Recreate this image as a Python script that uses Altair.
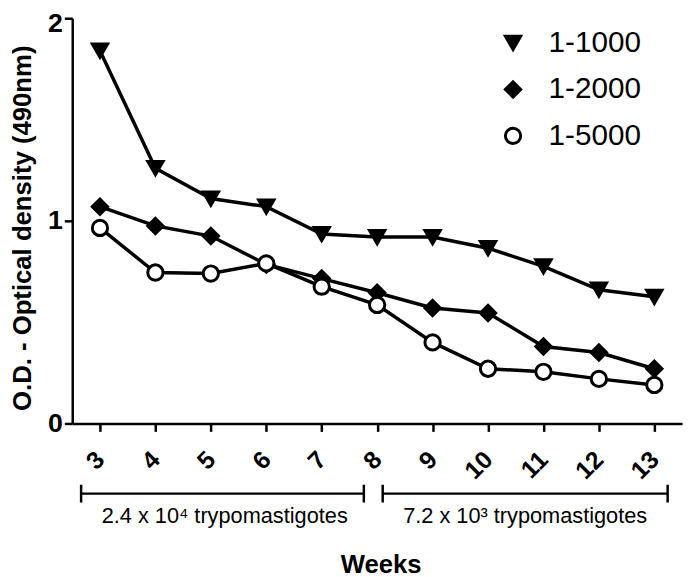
import altair as alt
import pandas as pd

weeks = [3, 4, 5, 6, 7, 8, 9, 10, 11, 12, 13]
series_names = ["1-1000", "1-2000", "1-5000"]
od_1000 = [1.84, 1.26, 1.11, 1.07, 0.935, 0.92, 0.92, 0.865, 0.775, 0.66, 0.625]
od_2000 = [1.07, 0.975, 0.925, 0.785, 0.715, 0.645, 0.57, 0.545, 0.38, 0.35, 0.27]
od_5000 = [0.965, 0.745, 0.74, 0.79, 0.675, 0.585, 0.40, 0.27, 0.255, 0.22, 0.19]
y_ticks = [0.0, 1.0, 2.0]

bracket_start = [2.66, 8.1]
bracket_end = [7.76, 13.24]
bracket_label_x = [5.25, 10.67]
bracket_labels = ["2.4 x 10\u2074 trypomastigotes", "7.2 x 10\u00b3 trypomastigotes"]

FONT = "Liberation Sans"

rows = []
for name, vals in zip(series_names, [od_1000, od_2000, od_5000]):
    for w, v in zip(weeks, vals):
        rows.append({"week": w, "od": v, "series": name})
df = pd.DataFrame(rows)

br = pd.DataFrame({"start": bracket_start, "end": bracket_end,
                   "lx": bracket_label_x, "label": bracket_labels})
caps = pd.DataFrame({"cx": bracket_start + bracket_end})

xscale = alt.Scale(domain=[2.5, 13.5], nice=False, zero=False)
yscale = alt.Scale(domain=[0, 2], nice=False)

x_enc = alt.X("week:Q", scale=xscale, axis=alt.Axis(
    values=weeks, title="Weeks", format="d",
    labelAngle=315, labelAlign="right", labelBaseline="middle",
    labelFontSize=25, labelFontWeight="bold", labelPadding=24,
    labelOverlap=False, labelFlush=False, labelBound=False,
    titleFontSize=26, titleFontWeight="bold", titleX=312, titleY=143,
    titleAlign="center", titleBaseline="middle"))
y_enc = alt.Y("od:Q", scale=yscale, axis=alt.Axis(
    values=y_ticks, format=".0f", title="O.D. - Optical density (490nm)",
    labelFontSize=27, labelFontWeight="bold", labelPadding=2,
    labelOverlap=False, labelFlush=False, labelBound=False,
    labelOffset={"condition": {"test": "datum.value == 2", "value": 5}, "value": 0},
    titleFontSize=26, titleFontWeight="bold", titleX=-50, titleY=212,
    titleAngle=270, titleAlign="center", titleBaseline="middle"))

lines = alt.Chart(df).mark_line(color="black", strokeWidth=3.5).encode(
    x=x_enc, y=y_enc, detail="series:N")

leg = alt.Legend(title=None, orient="none", legendX=431, legendY=10,
                 labelFontSize=30, labelFont=FONT, symbolSize=240,
                 symbolStrokeWidth=3,
                 rowPadding=17, labelOffset=21, padding=0)

points = alt.Chart(df).mark_point(strokeWidth=3, opacity=1, size=240).encode(
    x=alt.X("week:Q", scale=xscale),
    y=alt.Y("od:Q", scale=yscale),
    shape=alt.Shape("series:N", scale=alt.Scale(domain=series_names,
                    range=["triangle-down", "diamond", "circle"]), legend=leg),
    fill=alt.Fill("series:N", scale=alt.Scale(domain=series_names,
                  range=["black", "black", "white"]), legend=leg),
    stroke=alt.Stroke("series:N", scale=alt.Scale(domain=series_names,
                      range=["black", "black", "black"]), legend=leg),
)

rules = alt.Chart(br).mark_rule(color="black", strokeWidth=2.5).encode(
    x=alt.X("start:Q", scale=xscale), x2="end:Q", y=alt.value(481))
cap_rules = alt.Chart(caps).mark_rule(color="black", strokeWidth=2.5).encode(
    x=alt.X("cx:Q", scale=xscale), y=alt.value(472), y2=alt.value(490))
texts = alt.Chart(br).mark_text(font=FONT, fontSize=22, color="black",
                                baseline="middle", align="center").encode(
    x=alt.X("lx:Q", scale=xscale), y=alt.value(504), text="label:N")

chart = alt.layer(lines, points, rules, cap_rules, texts).properties(
    width=617, height=410,
    padding={"left": 65, "top": 7, "right": 4, "bottom": 152},
    autosize=alt.AutoSizeParams(type="none"),
).configure_axis(
    grid=False, domainColor="black", domainWidth=2.5, tickColor="black",
    tickWidth=2.5, tickSize=8, labelColor="black", titleColor="black",
    labelFont=FONT, titleFont=FONT,
).configure_view(stroke=None)

chart.save("out.html", embed_options={"renderer": "svg", "actions": False})
